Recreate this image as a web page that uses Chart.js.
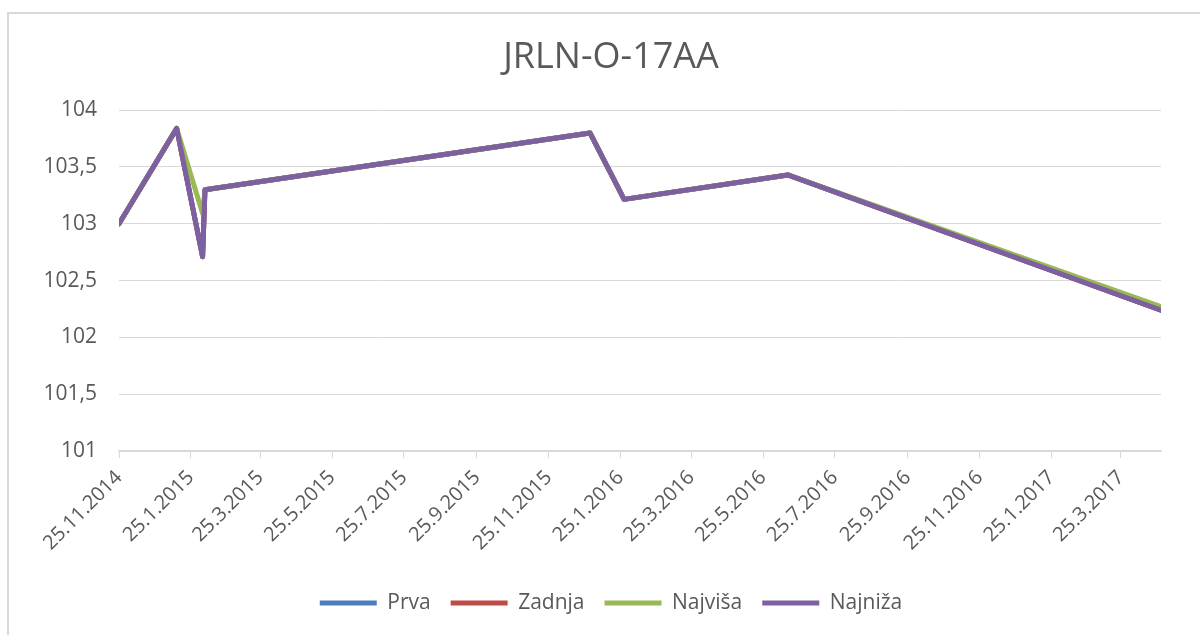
<!DOCTYPE html>
<html lang="hr">
<head>
<meta charset="UTF-8">
<title>JRLN-O-17AA</title>
<script src="https://cdnjs.cloudflare.com/ajax/libs/Chart.js/4.4.0/chart.umd.min.js"></script>
<style>
  * { margin:0; padding:0; box-sizing:border-box; }
  html, body { width:1200px; height:635px; overflow:hidden; background:#fff; }
  /* okvir grafa izlazi preko desnog i donjeg ruba slike */
  .okvir { position:absolute; left:7px; top:12px; width:1300px; height:700px; border:2px solid #d9d9d9; }
  .graf { position:absolute; left:0; top:0; width:1222px; height:635px; }
</style>
</head>
<body>
<div class="okvir"></div>
<div class="graf"><canvas id="chartRazina"></canvas></div>

<script>
// datumi mjerenja
const datumi  = ['25.11.2014','13.1.2015','4.2.2015','6.2.2015','30.12.2015','28.1.2016','15.6.2016','28.4.2017'];
const prva    = [103.00, 103.84, 102.71, 103.30, 103.80, 103.215, 103.43, 102.24];
const zadnja  = [103.00, 103.84, 102.71, 103.30, 103.80, 103.215, 103.43, 102.24];
const najvisa = [103.00, 103.84, 103.09, 103.30, 103.80, 103.215, 103.43, 102.27];
const najniza = [103.00, 103.84, 102.71, 103.30, 103.80, 103.215, 103.43, 102.24];

const oznakeX = ['25.11.2014','25.1.2015','25.3.2015','25.5.2015','25.7.2015','25.9.2015','25.11.2015',
                 '25.1.2016','25.3.2016','25.5.2016','25.7.2016','25.9.2016','25.11.2016','25.1.2017','25.3.2017'];
const oznakeY = [101, 101.5, 102, 102.5, 103, 103.5, 104];

const dan = s => { const [d, m, g] = s.split('.').map(Number); return Date.UTC(g, m - 1, d) / 864e5; };
const tocke = niz => datumi.map((d, i) => ({ x: dan(d), y: niz[i] }));

Chart.defaults.font.family = "'Open Sans', sans-serif";
Chart.defaults.color = '#595959';

const serija = (label, niz, boja, red) => ({
  label, data: tocke(niz), borderColor: boja, backgroundColor: boja, order: red,
  borderWidth: 5, pointRadius: 0, tension: 0, borderJoinStyle: 'round', borderCapStyle: 'round'
});

new Chart(document.getElementById('chartRazina').getContext('2d'), {
  type: 'line',
  data: { datasets: [
    serija('Prva', prva, '#4a7ebb', 4),
    serija('Zadnja', zadnja, '#be4b48', 3),
    serija('Najviša', najvisa, '#98b954', 2),
    serija('Najniža', najniza, '#7d60a0', 1)
  ] },
  options: {
    responsive: true, maintainAspectRatio: false, animation: false,
    layout: { padding: { left: 0, right: 0, top: 0, bottom: 11.5 } },
    plugins: {
      title: { display: true, text: 'JRLN-O-17AA', font: { size: 36, weight: 'normal' }, color: '#595959', padding: { top: 36, bottom: 31 } },
      legend: { position: 'bottom', labels: { usePointStyle: true, pointStyle: 'line', pointStyleWidth: 57, padding: 20,
        font: { size: 21 }, color: '#595959', sort: (a, b) => a.datasetIndex - b.datasetIndex } },
      tooltip: { enabled: false }
    },
    scales: {
      x: {
        type: 'linear', min: dan(datumi[0]), max: dan(datumi[datumi.length - 1]),
        afterBuildTicks: s => { s.ticks = oznakeX.map(t => ({ value: dan(t) })); },
        afterFit: s => { s.height = 121.5; },
        ticks: { autoSkip: false, maxRotation: 45, minRotation: 45, padding: 8, font: { size: 20 }, color: '#595959',
          callback: (v, i) => oznakeX[i] },
        grid: { drawOnChartArea: false, tickLength: 7, color: '#d9d9d9' },
        border: { color: '#d9d9d9', width: 1.5 }
      },
      y: {
        min: 101, max: 104,
        afterBuildTicks: s => { s.ticks = oznakeY.map(v => ({ value: v })); },
        afterFit: s => { s.width = 119; },
        ticks: { padding: 22, font: { size: 21 }, color: '#595959', callback: v => String(v).replace('.', ',') },
        grid: { color: '#d9d9d9', drawTicks: false },
        border: { display: false }
      },
      // prazan prostor desno od podrucja crtanja
      desno: {
        position: 'right', display: true,
        afterFit: s => { s.width = 61; },
        ticks: { display: false }, grid: { display: false }, border: { display: false }
      }
    }
  }
});
</script>
</body>
</html>
